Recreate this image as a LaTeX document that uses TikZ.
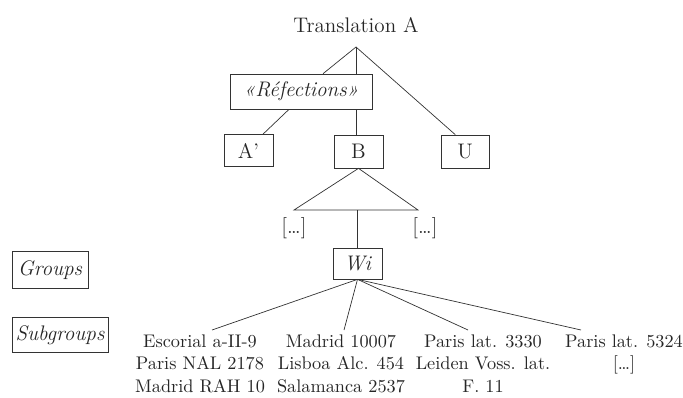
\documentclass[tikz,border=0pt]{standalone}
\usepackage{fontspec}
\usepackage{tikz}
\usetikzlibrary{calc}

\tikzset{box/.style={draw=black!80,thin,minimum width=0.98cm,minimum height=0.64cm,inner sep=2pt},
         stem/.style={draw=black!80,thin},
         witness/.style={align=center,inner sep=0pt,anchor=north,text=black!85,font=\fontsize{10.4}{13}\selectfont}}

\begin{document}
\begin{tikzpicture}[font=\fontsize{12}{13.2}\selectfont,text=black!85]
            \useasboundingbox (0,0) rectangle (13.66,-7.94);

            \node (trans) at (7.12,-0.50){Translation A};
            \coordinate (top) at (7.12,-0.94);

            \node[box,minimum width=2.84cm,minimum height=0.70cm] (ref) at (6.02,-1.83){\itshape «Réfections»};
            \node[box] (Ap) at (4.97,-3.01){A’};
            \node[box,minimum height=0.66cm] (B) at (7.17,-3.03){B};
            \node[box,minimum width=0.96cm,minimum height=0.66cm] (U) at (9.30,-3.03){U};

            \coordinate (tl) at (5.88,-4.20);
            \coordinate (tr) at (8.36,-4.20);
            \node (dl) at (5.88,-4.56){[\dots]};
            \node (dr) at (8.50,-4.56){[\dots]};

            \node[box,minimum height=0.62cm] (Wi) at (7.15,-5.27){\itshape Wi};

            \node[box,minimum width=1.52cm,minimum height=0.74cm] (groups) at (1.00,-5.40){\itshape Groups};
            \node[box,minimum width=1.92cm,minimum height=0.70cm] (subgroups) at (1.20,-6.70){\itshape Subgroups};

            \node[witness] (c1) at (4.00,-6.68){Escorial a-II-9\\Paris NAL 2178\\Madrid RAH 10};
            \node[witness] (c2) at (6.82,-6.68){Madrid 10007\\Lisboa Alc. 454\\Salamanca 2537};
            \node[witness] (c3) at (9.66,-6.68){Paris lat. 3330\\Leiden Voss. lat.\\F. 11};
            \node[witness] (c4) at (12.48,-6.68){Paris lat. 5324\\{}[\dots]};

            \draw[stem] (top) -- (ref);
            \draw[stem] (top) -- (top |- ref.north);
            \draw[stem] (top |- ref.south) -- (top |- B.north);
            \draw[stem] (top) -- (U.120);
            \draw[stem] ($(ref.south)+(-0.24,0)$) -- ($(Ap.north)+(0.29,0)$);

            \draw[stem] (B.south) -- (tl) -- (tr) -- cycle;
            \draw[stem] (Wi.north |- tl) -- (Wi.north);

            \draw[stem] (Wi.south) -- ($(c1.north)+(0.24,0.08)$);
            \draw[stem] (Wi.south) -- ($(c2.north)+(0.06,0.08)$);
            \draw[stem] (Wi.south) -- ($(c3.north)+(-0.30,0.08)$);
            \draw[stem] (Wi.south) -- ($(c4.north)+(-0.86,0.08)$);
\end{tikzpicture}
\end{document}
